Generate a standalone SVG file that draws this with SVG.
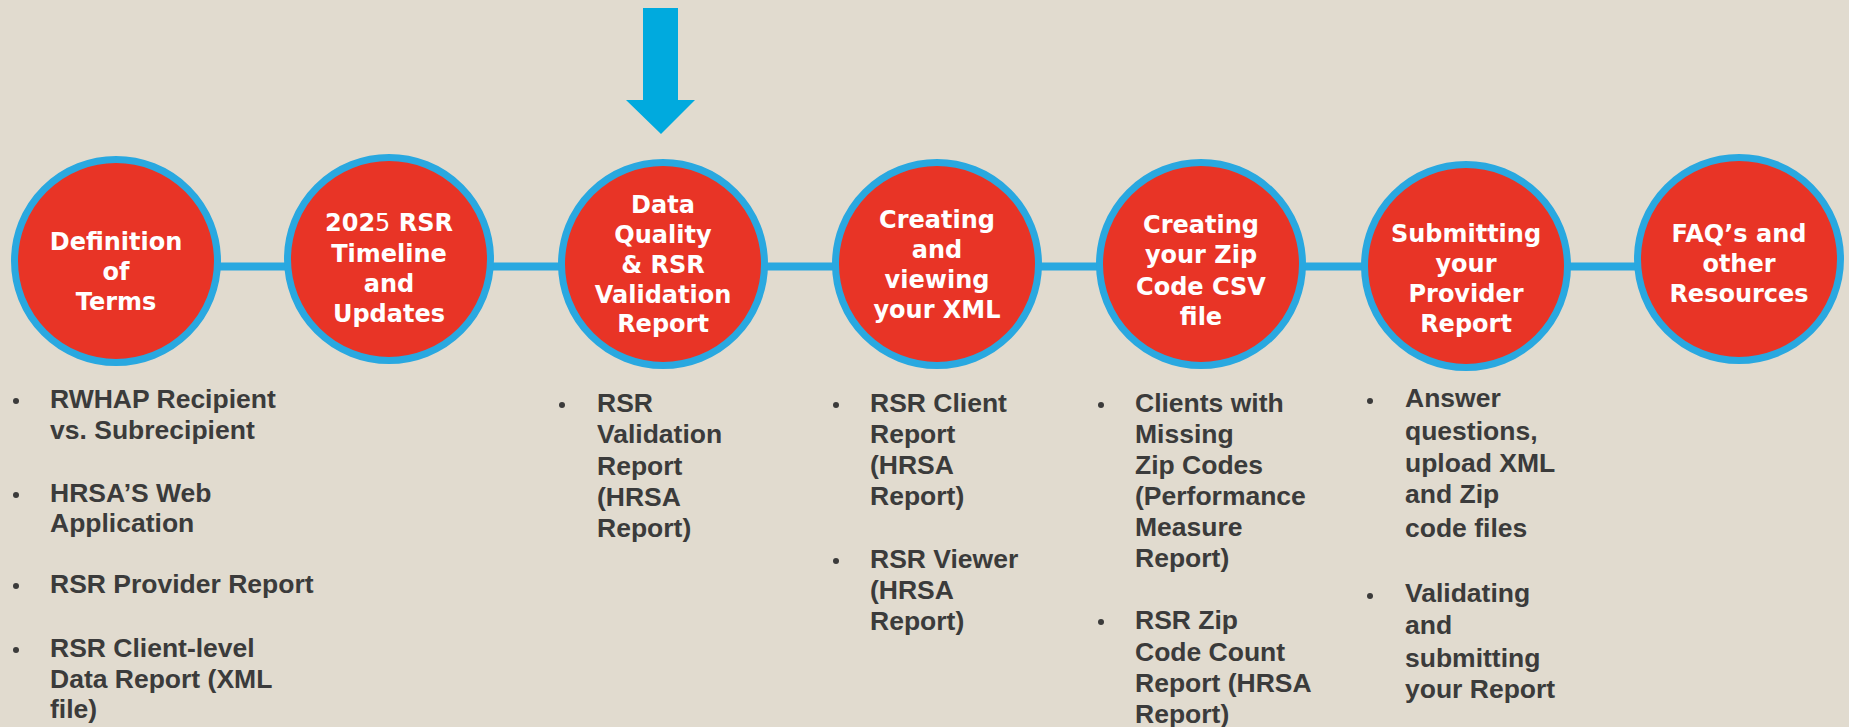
<svg xmlns="http://www.w3.org/2000/svg" width="1849" height="727" viewBox="0 0 1849 727">
<style>
.bg{fill:#E1DBCF}
.node circle{fill:#E83426;stroke:#29A8E0;stroke-width:7}
.ct{font-family:"DejaVu Sans","Liberation Sans",sans-serif;font-weight:700;font-size:24px;fill:#FFFFFF;text-anchor:middle}
.thin{font-weight:400}
.conn line{stroke:#29A8E0;stroke-width:8}
.bt{font-family:"Liberation Sans",Arial,sans-serif;font-weight:700;font-size:26.5px;fill:#3B3B3B}
.dot{fill:#3B3B3B}
</style>
<rect class="bg" x="0" y="0" width="1849" height="727"/>
<g id="connectors" class="conn">
<line x1="200" y1="266.5" x2="300" y2="266.5"/>
<line x1="470" y1="266.5" x2="580" y2="266.5"/>
<line x1="750" y1="266.5" x2="850" y2="266.5"/>
<line x1="1020" y1="266.5" x2="1115" y2="266.5"/>
<line x1="1290" y1="266.5" x2="1380" y2="266.5"/>
<line x1="1550" y1="266.5" x2="1650" y2="266.5"/>
</g>
<g id="arrow">
<polygon points="643,8 678,8 678,100 695,100 661,134 626,100 643,100" fill="#00AADE"/>
</g>
<g id="n1" class="node">
<circle cx="116" cy="261" r="101.5"/>
<text class="ct"><tspan x="116" y="250">Definition</tspan><tspan x="116" y="280">of</tspan><tspan x="116" y="310">Terms</tspan></text>
</g>
<g id="n2" class="node">
<circle cx="389" cy="259" r="101.5"/>
<text class="ct"><tspan x="389" y="231">202<tspan class="thin">5</tspan> RSR</tspan><tspan x="389" y="262">Timeline</tspan><tspan x="389" y="292">and</tspan><tspan x="389" y="322">Updates</tspan></text>
</g>
<g id="n3" class="node">
<circle cx="663" cy="264" r="101.5"/>
<text class="ct"><tspan x="663" y="213">Data</tspan><tspan x="663" y="243">Quality</tspan><tspan x="663" y="273">&amp; RSR</tspan><tspan x="663" y="303">Validation</tspan><tspan x="663" y="332">Report</tspan></text>
</g>
<g id="n4" class="node">
<circle cx="937" cy="264" r="101.5"/>
<text class="ct"><tspan x="937" y="228">Creating</tspan><tspan x="937" y="258">and</tspan><tspan x="937" y="288">viewing</tspan><tspan x="937" y="318">your XML</tspan></text>
</g>
<g id="n5" class="node">
<circle cx="1201" cy="264" r="101.5"/>
<text class="ct"><tspan x="1201" y="233">Creating</tspan><tspan x="1201" y="263">your Zip</tspan><tspan x="1201" y="295">Code CSV</tspan><tspan x="1201" y="325">file</tspan></text>
</g>
<g id="n6" class="node">
<circle cx="1466" cy="266" r="101.5"/>
<text class="ct"><tspan x="1466" y="242">Submitting</tspan><tspan x="1466" y="272">your</tspan><tspan x="1466" y="302">Provider</tspan><tspan x="1466" y="332">Report</tspan></text>
</g>
<g id="n7" class="node">
<circle cx="1739" cy="259" r="101.5"/>
<text class="ct"><tspan x="1739" y="242">FAQ’s and</tspan><tspan x="1739" y="272">other</tspan><tspan x="1739" y="302">Resources</tspan></text>
</g>
<g id="list1">
<circle class="dot" cx="16" cy="401" r="3"/>
<text class="bt"><tspan x="50" y="408">RWHAP Recipient</tspan><tspan x="50" y="439">vs. Subrecipient</tspan></text>
<circle class="dot" cx="16" cy="495" r="3"/>
<text class="bt"><tspan x="50" y="502">HRSA’S Web</tspan><tspan x="50" y="532">Application</tspan></text>
<circle class="dot" cx="16" cy="586" r="3"/>
<text class="bt" x="50" y="593">RSR Provider Report</text>
<circle class="dot" cx="16" cy="650" r="3"/>
<text class="bt"><tspan x="50" y="657">RSR Client-level</tspan><tspan x="50" y="688">Data Report (XML</tspan><tspan x="50" y="718">file)</tspan></text>
</g>
<g id="list3">
<circle class="dot" cx="562" cy="405" r="3"/>
<text class="bt"><tspan x="597" y="412">RSR</tspan><tspan x="597" y="443">Validation</tspan><tspan x="597" y="475">Report</tspan><tspan x="597" y="506">(HRSA</tspan><tspan x="597" y="537">Report)</tspan></text>
</g>
<g id="list4">
<circle class="dot" cx="836" cy="405" r="3"/>
<text class="bt"><tspan x="870" y="412">RSR Client</tspan><tspan x="870" y="443">Report</tspan><tspan x="870" y="474">(HRSA</tspan><tspan x="870" y="505">Report)</tspan></text>
<circle class="dot" cx="836" cy="561" r="3"/>
<text class="bt"><tspan x="870" y="568">RSR Viewer</tspan><tspan x="870" y="599">(HRSA</tspan><tspan x="870" y="630">Report)</tspan></text>
</g>
<g id="list5">
<circle class="dot" cx="1101" cy="405" r="3"/>
<text class="bt"><tspan x="1135" y="412">Clients with</tspan><tspan x="1135" y="443">Missing</tspan><tspan x="1135" y="474">Zip Codes</tspan><tspan x="1135" y="505">(Performance</tspan><tspan x="1135" y="536">Measure</tspan><tspan x="1135" y="567">Report)</tspan></text>
<circle class="dot" cx="1101" cy="622" r="3"/>
<text class="bt"><tspan x="1135" y="629">RSR Zip</tspan><tspan x="1135" y="661">Code Count</tspan><tspan x="1135" y="692">Report (HRSA</tspan><tspan x="1135" y="723">Report)</tspan></text>
</g>
<g id="list6">
<circle class="dot" cx="1370" cy="401" r="3"/>
<text class="bt"><tspan x="1405" y="407">Answer</tspan><tspan x="1405" y="440">questions,</tspan><tspan x="1405" y="472">upload XML</tspan><tspan x="1405" y="503">and Zip</tspan><tspan x="1405" y="537">code files</tspan></text>
<circle class="dot" cx="1370" cy="596" r="3"/>
<text class="bt"><tspan x="1405" y="602">Validating</tspan><tspan x="1405" y="634">and</tspan><tspan x="1405" y="667">submitting</tspan><tspan x="1405" y="698">your Report</tspan></text>
</g>
</svg>
